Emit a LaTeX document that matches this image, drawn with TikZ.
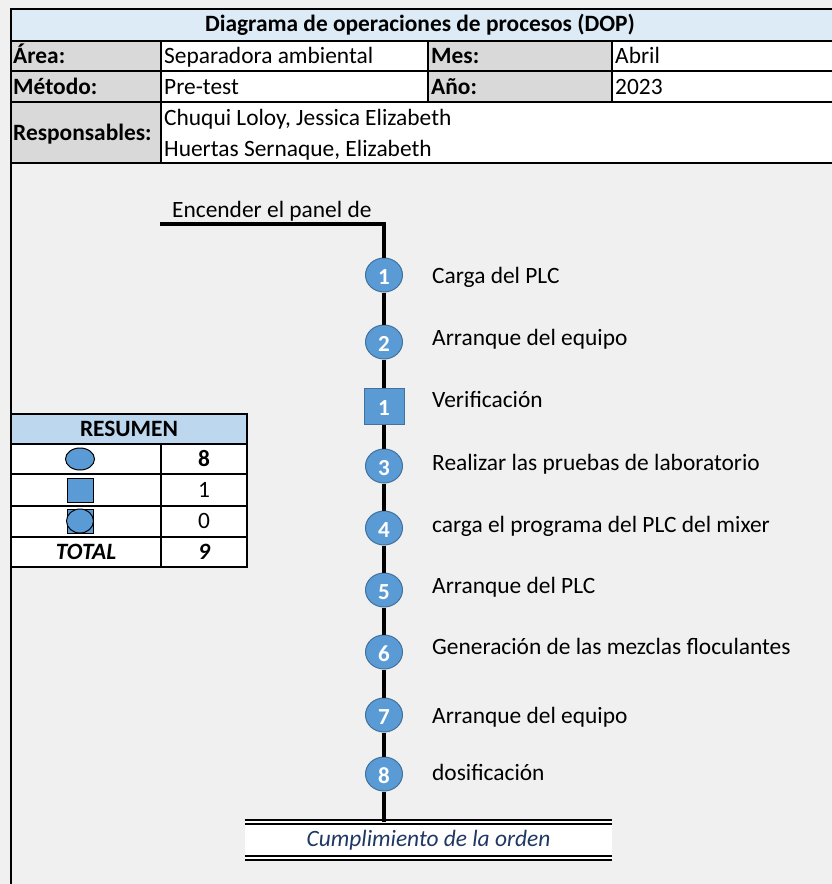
\documentclass[tikz,border=0pt]{standalone}
\usepackage{fontspec}
\setmainfont{Carlito}
\usetikzlibrary{positioning, shapes.geometric}
\definecolor{azulop}{HTML}{5B9BD5}
\definecolor{bordeop}{HTML}{41719C}
\definecolor{celeste}{HTML}{DDEBF7}
\definecolor{celestedos}{HTML}{BDD7EE}
\definecolor{grisetiq}{HTML}{D9D9D9}
\definecolor{fondo}{HTML}{F0F0F0}
\definecolor{azultexto}{HTML}{1F3864}
\tikzset{operacion/.style={ellipse, draw=bordeop, fill=azulop, line width=1pt, minimum width=37pt, minimum height=34pt, inner sep=0pt, text=white, font=\fontsize{23}{23}\selectfont\bfseries, text height=19pt, text depth=0pt},
         inspeccion/.style={rectangle, draw=bordeop, fill=azulop, line width=1pt, minimum width=40pt, minimum height=36pt, inner sep=0pt, text=white, font=\fontsize{23}{23}\selectfont\bfseries, text height=19pt, text depth=0pt},
         paso/.style={anchor=west, inner sep=0pt, text height=17pt, text depth=4pt, font=\fontsize{23.4}{27}\selectfont},
         etiq/.style={anchor=west, inner sep=0pt, text height=17pt, text depth=4pt, font=\fontsize{23.4}{27}\selectfont\bfseries},
         dato/.style={anchor=west, inner sep=0pt, text height=17pt, text depth=4pt, font=\fontsize{23.4}{27}\selectfont},
         linea/.style={line width=1.3pt},
         flujo/.style={line width=3.5pt},
         doble/.style={double=white, double distance=2pt, line width=2pt},
        }

\begin{document}
\begin{tikzpicture}[x=1pt, y=-1pt]
        \useasboundingbox[fill=fondo] (0,0) rectangle (832,884);
        % encabezado
        \draw[linea, fill=celeste] (11,9) rectangle (840,41);
        \draw[linea, fill=grisetiq] (11,41) rectangle (161,71) (428,41) rectangle (612,71)
              (11,71) rectangle (161,102) (428,71) rectangle (612,102) (11,102) rectangle (161,163);
        \draw[linea, fill=white] (161,41) rectangle (428,71) (612,41) rectangle (840,71)
              (161,71) rectangle (428,102) (612,71) rectangle (840,102) (161,102) rectangle (840,163);
        \draw[line width=2.5pt] (11,9) -- (11,890);
        \draw[line width=2pt] (11,163) -- (840,163);
        \node[etiq, anchor=center] (titulo) at (420,25) {Diagrama de operaciones de procesos (DOP)};
        \node[etiq] (area) at (13,57) {Área:};
        \node[dato] (areav) at (164,57) {Separadora ambiental};
        \node[etiq] (mes) at (431,57) {Mes:};
        \node[dato] (mesv) at (615,57) {Abril};
        \node[etiq] (metodo) at (13,88) {Método:};
        \node[dato] (metodov) at (164,88) {Pre-test};
        \node[etiq] (anio) at (431,88) {Año:};
        \node[dato] (aniov) at (615,88) {2023};
        \node[etiq] (resp) at (13,134) {Responsables:};
        \node[dato] (resp1) at (164,119) {Chuqui Loloy, Jessica Elizabeth};
        \node[dato] (resp2) at (164,150) {Huertas Sernaque, Elizabeth};

        % resumen
        \draw[linea, fill=celestedos] (11,414) rectangle (247,444);
        \draw[linea, fill=white] (11,444) rectangle (161,474) (161,444) rectangle (247,474)
              (11,474) rectangle (161,506) (161,474) rectangle (247,506)
              (11,506) rectangle (161,537) (161,506) rectangle (247,537)
              (11,537) rectangle (161,567) (161,537) rectangle (247,567);
        \node[etiq, anchor=center] (resumen) at (129,430) {RESUMEN};
        \node[ellipse, draw, fill=azulop, line width=1pt, minimum width=29pt, minimum height=22pt, inner sep=0pt] (icop) at (80,459) {};
        \node[draw, fill=azulop, line width=1pt, minimum width=26pt, minimum height=24pt, inner sep=0pt] (icinsp) at (80,490) {};
        \node[draw, fill=azulop, line width=1pt, minimum width=26pt, minimum height=24pt, inner sep=0pt] (iccomb) at (80,521) {};
        \node[ellipse, draw, fill=azulop, line width=1pt, minimum width=27pt, minimum height=24pt, inner sep=0pt] (iccombb) at (80,521) {};
        \node[etiq, anchor=center] (nop) at (204,460) {8};
        \node[dato, anchor=center] (ninsp) at (204,491) {1};
        \node[dato, anchor=center] (ncomb) at (204,522) {0};
        \node[etiq, anchor=center, font=\fontsize{23.4}{27}\selectfont\bfseries\itshape] (total) at (86,553) {TOTAL};
        \node[etiq, anchor=center, font=\fontsize{23.4}{27}\selectfont\bfseries\itshape] (ntotal) at (204,553) {9};

        % diagrama
        \node[paso, anchor=south west] (encender) at (172,222) {Encender el panel de};
        \coordinate (inicio) at (160,224);
        \node[operacion] (op1) at (384,275) {1};
        \node[operacion] (op2) at (384,342) {2};
        \node[inspeccion] (insp1) at (384,406) {1};
        \node[operacion] (op3) at (384,466) {3};
        \node[operacion] (op4) at (384,528) {4};
        \node[operacion] (op5) at (384,590) {5};
        \node[operacion] (op6) at (384,652) {6};
        \node[operacion] (op7) at (384,715) {7};
        \node[operacion] (op8) at (384,774) {8};
        \node[fill=white, minimum width=367pt, minimum height=35pt, inner sep=0pt, text=azultexto, font=\fontsize{23.4}{27}\selectfont\itshape] (fin) at (428.5,840) {Cumplimiento de la orden};
        \draw[doble] (fin.north west) -- (fin.north east);
        \draw[doble] (fin.south west) -- (fin.south east);

        \node[paso] (t1) at (432,277) {Carga del PLC};
        \node[paso] (t2) at (432,339) {Arranque del equipo};
        \node[paso] (t3) at (432,401) {Verificación};
        \node[paso] (t4) at (432,464) {Realizar las pruebas de laboratorio};
        \node[paso] (t5) at (432,526) {carga el programa del PLC del mixer};
        \node[paso] (t6) at (432,587) {Arranque del PLC};
        \node[paso] (t7) at (432,648) {Generación de las mezclas floculantes};
        \node[paso] (t8) at (432,717) {Arranque del equipo};
        \node[paso] (t9) at (432,774) {dosificación};

        \draw[flujo] (inicio) -| (op1);
        \draw[flujo] (op1) -- (op2) -- (insp1) -- (op3) -- (op4) -- (op5) -- (op6) -- (op7) -- (op8);
        \draw[flujo] (op8) -- (op8 |- fin.north);
    \end{tikzpicture}
\end{document}
